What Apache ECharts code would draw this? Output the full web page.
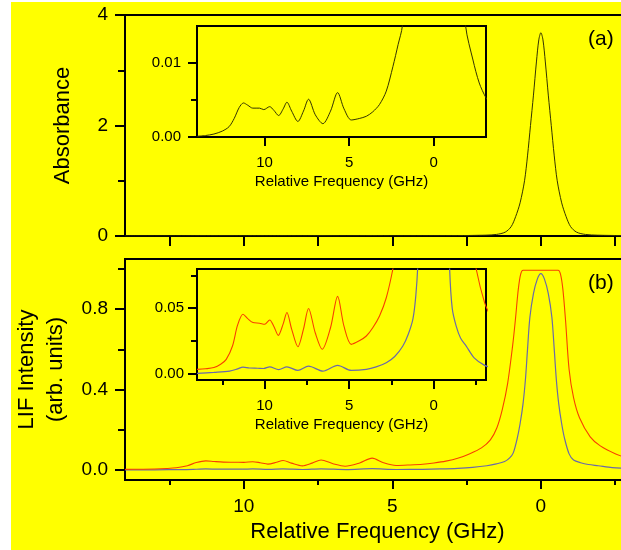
<!DOCTYPE html>
<html>
<head>
<meta charset="utf-8">
<title>Absorbance / LIF</title>
<script src="https://cdn.jsdelivr.net/npm/echarts/dist/echarts.min.js"></script>
<style>
  html, body { margin: 0; padding: 0; background: #fff; }
  #chart { width: 621px; height: 550px; }
</style>
</head>
<body>
<div id="chart"></div>
<script>
// 吸收谱 (a)：频率 (GHz) 与吸光度
var absFreq = [14.0, 13.5, 13.0, 12.5, 12.1, 11.8, 11.5, 11.25, 11.0, 10.7, 10.3, 10.05, 9.7, 9.45, 9.17,
	8.9, 8.68, 8.4, 8.03, 7.7, 7.4, 7.0, 6.55, 6.1, 5.68, 5.3, 4.87, 4.4, 3.98, 3.6, 3.2, 2.8, 2.41,
	2.1, 1.85, 1.5, 1.2, 1.0, 0.85, 0.7, 0.55, 0.45, 0.35, 0.25, 0.15, 0.07, 0.0,
	-0.07, -0.15, -0.25, -0.35, -0.45, -0.55, -0.7, -0.85, -1.0, -1.2, -1.5, -1.9, -2.33, -2.7, -3.1, -3.4];
var absValue = [0.0001, 0.0002, 0.0004, 0.0008, 0.0014, 0.0025, 0.0040, 0.0046, 0.0043, 0.0039, 0.0039, 0.0037, 0.0041, 0.0036, 0.0029,
	0.0038, 0.0047, 0.0035, 0.0021, 0.0035, 0.0051, 0.0030, 0.0018, 0.0035, 0.0060, 0.0038, 0.0023, 0.0025, 0.0028, 0.0034, 0.0044, 0.0062, 0.0095,
	0.0125, 0.015, 0.028, 0.07, 0.17, 0.35, 0.6, 1.0, 1.45, 2.0, 2.55, 3.15, 3.55, 3.68,
	3.55, 3.15, 2.55, 2.0, 1.45, 1.0, 0.6, 0.35, 0.17, 0.07, 0.028, 0.0149, 0.0104, 0.0073, 0.0053, 0.0045];

// LIF 谱 (b)：红线（饱和）
var redFreq = [14.0, 13.5, 13.0, 12.6, 12.27, 11.9, 11.6, 11.28, 11.0, 10.69, 10.3, 10.0, 9.7, 9.45, 9.19,
	8.9, 8.68, 8.4, 8.03, 7.7, 7.4, 7.0, 6.59, 6.1, 5.68, 5.3, 4.87, 4.4, 3.98, 3.6, 3.2, 2.8, 2.41,
	2.0, 1.7, 1.48, 1.3, 1.12, 0.95, 0.86, 0.76, 0.68, 0.6, 0.3, 0.0, -0.3, -0.58, -0.66, -0.74,
	-0.83, -0.95, -1.1, -1.3, -1.66, -2.0, -2.52, -3.02, -3.4];
var redValue = [0.0031, 0.0036, 0.0045, 0.0070, 0.0108, 0.021, 0.037, 0.0454, 0.042, 0.039, 0.0385, 0.0377, 0.041, 0.036, 0.0292,
	0.038, 0.0467, 0.034, 0.0205, 0.034, 0.0497, 0.031, 0.0185, 0.035, 0.059, 0.036, 0.0223, 0.025, 0.0287, 0.035, 0.044, 0.058, 0.08,
	0.11, 0.15, 0.21, 0.30, 0.43, 0.62, 0.745, 0.9, 0.975, 0.994, 0.994, 0.994, 0.994, 0.994, 0.975, 0.9,
	0.745, 0.5, 0.36, 0.26, 0.165, 0.12, 0.08, 0.054, 0.043];

// LIF 谱 (b)：蓝线
var blueFreq = [14.0, 13.0, 12.07, 11.6, 11.28, 10.9, 10.4, 10.06, 9.7, 9.17, 8.68, 8.03, 7.4, 6.55, 5.68,
	4.87, 3.98, 3.4, 2.8, 2.3, 1.82, 1.5, 1.22, 1.05, 0.93, 0.8, 0.7, 0.6, 0.52, 0.45, 0.37, 0.25, 0.12, 0.0,
	-0.12, -0.25, -0.37, -0.45, -0.52, -0.6, -0.7, -0.8, -0.95, -1.1, -1.34, -1.6, -1.93, -2.4, -3.02, -3.4];
var blueValue = [0.0, 0.0008, 0.0018, 0.0035, 0.0049, 0.0042, 0.0040, 0.0038, 0.0051, 0.0030, 0.0051, 0.0023, 0.0056, 0.0018, 0.0062,
	0.0023, 0.0031, 0.0050, 0.0082, 0.013, 0.021, 0.030, 0.042, 0.06, 0.085, 0.155, 0.23, 0.33, 0.45, 0.60, 0.76, 0.878, 0.95, 0.977,
	0.95, 0.878, 0.76, 0.60, 0.45, 0.33, 0.23, 0.155, 0.08, 0.05, 0.036, 0.027, 0.021, 0.012, 0.0062, 0.0048];

// 刻度位置
var mainTicks = [12.5, 10, 7.5, 5, 2.5, 0, -2.5];
var majorFreqTicks = [10, 5, 0];
var minorFreqTicks = [12.5, 7.5, 2.5, -2.5];

var FONT = '"Liberation Sans", Arial, sans-serif';

function pairs(xs, ys) {
	var out = [];
	for (var i = 0; i < xs.length; i++) {
		out.push([xs[i], ys[i]]);
	}
	return out;
}

/* 频率轴（反向）
* labels 为 null 时只画刻度（次刻度），不画轴线
*/
function freqAxis(grid, min, max, ticks, len, labels, fontSize, margin) {
	return {
		type: 'value', gridIndex: grid, min: min, max: max, inverse: true, position: 'bottom',
		axisLine: { show: labels !== null, onZero: false, lineStyle: { color: '#000', width: 2 } },
		axisTick: { customValues: ticks, length: len, lineStyle: { color: '#000', width: 2 } },
		axisLabel: labels ? { customValues: labels, color: '#000', fontSize: fontSize, fontFamily: FONT, margin: margin } : { show: false },
		splitLine: { show: false }
	};
}

function valueAxis(grid, min, max, ticks, len, labels, digits, fontSize, margin) {
	return {
		type: 'value', gridIndex: grid, min: min, max: max, position: 'left',
		axisLine: { show: labels !== null, onZero: false, lineStyle: { color: '#000', width: 2 } },
		axisTick: { customValues: ticks, length: len, lineStyle: { color: '#000', width: 2 } },
		axisLabel: labels ? {
			customValues: labels, color: '#000', fontSize: fontSize, fontFamily: FONT, margin: margin,
			formatter: function (v) { return v.toFixed(digits); }
		} : { show: false },
		splitLine: { show: false }
	};
}

var myChart = echarts.init(document.getElementById('chart'));

var boxStyle = { show: true, borderColor: '#000', borderWidth: 2, backgroundColor: 'transparent', outerBoundsMode: 'none', containLabel: false };

// x 轴
var xAxes = [
	freqAxis(0, -3, 14, mainTicks, 10, false, 19, 16),
	freqAxis(1, -3, 14, majorFreqTicks, 9, majorFreqTicks, 19, 17),
	freqAxis(1, -3, 14, minorFreqTicks, 5, null, 19, 17),
	freqAxis(2, -3.1, 14, majorFreqTicks, 9, majorFreqTicks, 15, 18),
	freqAxis(3, -3.1, 14, majorFreqTicks, 9, majorFreqTicks, 15, 18),
	freqAxis(3, -3.1, 14, minorFreqTicks, 5, null, 15, 18)
];
xAxes[0].axisLine.show = true;
xAxes[1].name = 'Relative Frequency (GHz)';
xAxes[1].nameLocation = 'middle';
xAxes[1].nameGap = 41;
xAxes[1].nameTextStyle = { fontSize: 22, fontFamily: FONT, color: '#000' };
xAxes[3].name = 'Relative Frequency (GHz)';
xAxes[4].name = 'Relative Frequency (GHz)';
[3, 4].forEach(function (k) {
	xAxes[k].nameLocation = 'middle';
	xAxes[k].nameGap = 37;
	xAxes[k].nameTextStyle = { fontSize: 15, fontFamily: FONT, color: '#000' };
});

// y 轴
var yAxes = [
	valueAxis(0, 0, 4, [0, 2, 4], 10, [0, 2, 4], 0, 19, 17),
	valueAxis(0, 0, 4, [1, 3], 7, null, 0, 19, 17),
	valueAxis(1, -0.05, 1.05, [0, 0.4, 0.8], 10, [0, 0.4, 0.8], 1, 19, 17),
	valueAxis(1, -0.05, 1.05, [0.2, 0.6, 1.0], 7, null, 1, 19, 17),
	valueAxis(2, 0, 0.015, [0, 0.01], 9, [0, 0.01], 2, 15, 16),
	valueAxis(2, 0, 0.015, [0.005], 6, null, 2, 15, 16),
	valueAxis(3, -0.005, 0.08, [0, 0.05], 9, [0, 0.05], 2, 15, 13),
	valueAxis(3, -0.005, 0.08, [0.025, 0.075], 6, null, 2, 15, 13)
];
yAxes[0].name = 'Absorbance';
yAxes[2].name = 'LIF Intensity\n(arb. units)';
[0, 2].forEach(function (k) {
	yAxes[k].nameLocation = 'middle';
	yAxes[k].nameRotate = 90;
	yAxes[k].nameTextStyle = { fontSize: 22, fontFamily: FONT, color: '#000', lineHeight: 29 };
});
yAxes[0].nameGap = 48;
yAxes[2].nameGap = 52;

function lineSeries(data, xi, yi, color, width) {
	return {
		type: 'line', data: data, xAxisIndex: xi, yAxisIndex: yi,
		showSymbol: false, symbol: 'none', smooth: 0.3, clip: true,
		lineStyle: { color: color, width: width }
	};
}

var absData = pairs(absFreq, absValue);
var redData = pairs(redFreq, redValue);
var blueData = pairs(blueFreq, blueValue);

option = {
	backgroundColor: '#fff',
	animation: false,
	textStyle: { fontFamily: FONT },
	grid: [
		Object.assign({ left: 125, top: 15, right: -9, height: 221 }, boxStyle),
		Object.assign({ left: 125, top: 259, right: -9, height: 221 }, boxStyle),
		Object.assign({ left: 197, top: 26, width: 289, height: 111 }, boxStyle),
		Object.assign({ left: 197, top: 269, width: 289, height: 111 }, boxStyle)
	],
	xAxis: xAxes,
	yAxis: yAxes,
	graphic: [
		{ type: 'rect', left: 11, top: 2, z: -10, silent: true,
			shape: { width: 610, height: 548 }, style: { fill: '#ffff00' } },
		{ type: 'text', left: 588, top: 29, style: { text: '(a)', font: '21px ' + FONT, fill: '#000' } },
		{ type: 'text', left: 588, top: 273, style: { text: '(b)', font: '21px ' + FONT, fill: '#000' } }
	],
	series: [
		lineSeries(absData, 0, 0, '#333300', 1),
		lineSeries(absData, 3, 4, '#333300', 1),
		lineSeries(blueData, 1, 2, '#6a6aa8', 1.2),
		lineSeries(redData, 1, 2, '#f84000', 1.1),
		lineSeries(blueData, 4, 6, '#6a6aa8', 1.2),
		lineSeries(redData, 4, 6, '#f84000', 1.1)
	]
};
myChart.setOption(option);
</script>
</body>
</html>
